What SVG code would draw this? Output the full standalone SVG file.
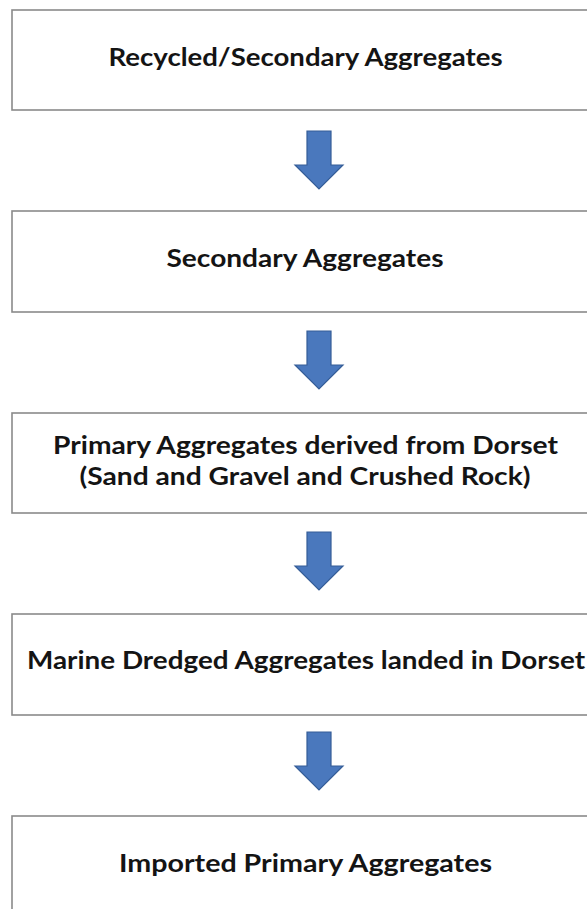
<svg xmlns="http://www.w3.org/2000/svg" width="587" height="909" viewBox="0 0 587 909">
<style>
.box{fill:#fff;stroke:#8a8a8a;stroke-width:1.6}
.lbl{font-family:Lato,"Open Sans","Liberation Sans",sans-serif;font-weight:bold;font-size:24px;fill:#141414;text-anchor:middle}
.arr{fill:#4a78bd;stroke:#355d97;stroke-width:1.2;stroke-linejoin:miter}
</style>
<defs>
<path id="downArrow" class="arr" d="M-12,0 H12 V34 H24 L0,58 L-24,34 H-12 Z"/>
</defs>
<rect width="587" height="909" fill="#fff"/>
<g id="connectors">
<use href="#downArrow" x="319" y="131"/>
<use href="#downArrow" x="319" y="331"/>
<use href="#downArrow" x="319" y="532"/>
<use href="#downArrow" x="319" y="732"/>
</g>
<g id="n1"><rect class="box" x="12" y="10" width="590" height="100"/><text class="lbl" x="305.5" y="66" textLength="394" lengthAdjust="spacingAndGlyphs">Recycled/Secondary Aggregates</text></g>
<g id="n2"><rect class="box" x="12" y="211" width="590" height="101"/><text class="lbl" x="305" y="267" textLength="277" lengthAdjust="spacingAndGlyphs">Secondary Aggregates</text></g>
<g id="n3"><rect class="box" x="12" y="413" width="590" height="100"/><text class="lbl" x="305.5" y="453.5" textLength="505" lengthAdjust="spacingAndGlyphs">Primary Aggregates derived from Dorset</text><text class="lbl" x="305" y="485" textLength="451" lengthAdjust="spacingAndGlyphs">(Sand and Gravel and Crushed Rock)</text></g>
<g id="n4"><rect class="box" x="12" y="614" width="590" height="101"/><text class="lbl" x="306" y="668.5" textLength="558" lengthAdjust="spacingAndGlyphs">Marine Dredged Aggregates landed in Dorset</text></g>
<g id="n5"><rect class="box" x="12" y="816" width="590" height="120"/><text class="lbl" x="305.5" y="872" textLength="373" lengthAdjust="spacingAndGlyphs">Imported Primary Aggregates</text></g>
</svg>
